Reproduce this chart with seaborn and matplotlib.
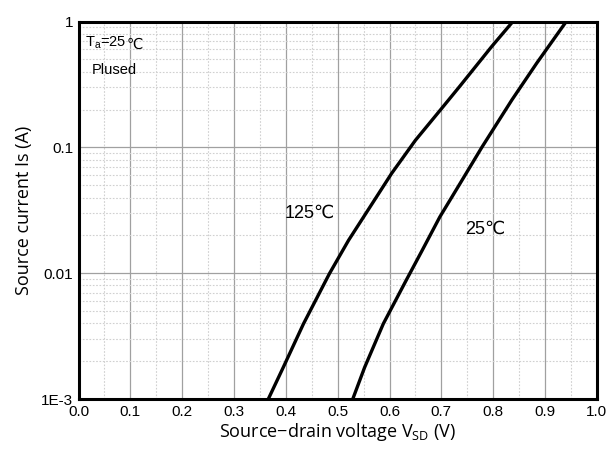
import matplotlib
matplotlib.use("Agg")
import matplotlib.pyplot as plt
import seaborn as sns
import pandas as pd
import numpy as np
from matplotlib.ticker import MultipleLocator, LogLocator, NullFormatter

# Data
v_125 = [0.366, 0.395, 0.434, 0.484, 0.521, 0.5625, 0.604, 0.650, 0.698, 0.735, 0.797, 0.838]
i_125 = [0.001, 0.00179, 0.00397, 0.00993, 0.0183, 0.0337, 0.0621, 0.114, 0.198, 0.304, 0.632, 1.0]
v_25 = [0.529, 0.552, 0.588, 0.632, 0.663, 0.697, 0.736, 0.778, 0.836, 0.884, 0.941]
i_25 = [0.001, 0.00179, 0.00397, 0.00877, 0.0152, 0.028, 0.0516, 0.1, 0.238, 0.467, 1.0]
series_names = ["125℃", "25℃"]
x_ticks = [0.0, 0.1, 0.2, 0.3, 0.4, 0.5, 0.6, 0.7, 0.8, 0.9, 1.0]
y_ticks = [0.001, 0.01, 0.1, 1]
y_tick_labels = ["1E-3", "0.01", "0.1", "1"]

df = pd.concat([
    pd.DataFrame({"V": v_125, "I": i_125, "T": series_names[0]}),
    pd.DataFrame({"V": v_25, "I": i_25, "T": series_names[1]}),
])

sns.set_theme(style="white")
plt.rcParams['font.family'] = ['Liberation Sans', 'DejaVu Sans']

fig = plt.figure(figsize=(6.09, 4.49), dpi=100)
ax = fig.add_axes([0.129, 0.111, 0.851, 0.841])

sns.lineplot(data=df, x="V", y="I", hue="T", palette=["black", "black"],
             sort=False, linewidth=2.4, legend=False, ax=ax)
ax.set_yscale("log")
ax.set_xlim(0, 1)
ax.set_ylim(0.001, 1)

ax.set_xticks(x_ticks)
ax.set_xticklabels([f"{t:.1f}" for t in x_ticks])
ax.xaxis.set_minor_locator(MultipleLocator(0.05))
ax.set_yticks(y_ticks)
ax.set_yticklabels(y_tick_labels)
ax.yaxis.set_minor_locator(LogLocator(base=10, subs=np.arange(2, 10)))
ax.yaxis.set_minor_formatter(NullFormatter())

ax.grid(True, which="major", color="#a0a0a0", linewidth=0.9, linestyle="-")
ax.grid(True, which="minor", color="#d0d0d0", linewidth=0.8, linestyle=(0, (1.5, 1.5)))
ax.set_axisbelow(True)
ax.tick_params(which="both", length=0, labelsize=11, colors="black", pad=4)
for s in ax.spines.values():
    s.set_color("black")
    s.set_linewidth(2.2)

lab_font = ['Open Sans', 'DejaVu Sans']
ax.set_xlabel("Source\u2212drain voltage V$_\\mathregular{SD}$ (V)", fontsize=13,
              family=lab_font, labelpad=2, color="black")
ax.set_ylabel("Source current Is (A)", fontsize=13, family=lab_font, labelpad=6, color="black")

t1 = ax.text(0.012, 0.965, "T$_\\mathregular{a}$=25", transform=ax.transAxes, fontsize=10.5,
             va="top", ha="left", color="black")
ax.annotate("℃", xy=(1, 0), xycoords=t1, xytext=(0, 0), textcoords="offset points",
            fontsize=10.5, va="bottom", ha="left", color="black",
            family=['DejaVu Sans'])
ax.text(0.025, 0.89, "Plused", transform=ax.transAxes, fontsize=10.5,
        va="top", ha="left", color="black")
ax.text(0.398, 0.493, "125℃", transform=ax.transAxes, fontsize=13,
        va="center", ha="left", color="black")
ax.text(0.745, 0.45, "25℃", transform=ax.transAxes, fontsize=13,
        va="center", ha="left", color="black")

fig.savefig("out.png", dpi=100)
